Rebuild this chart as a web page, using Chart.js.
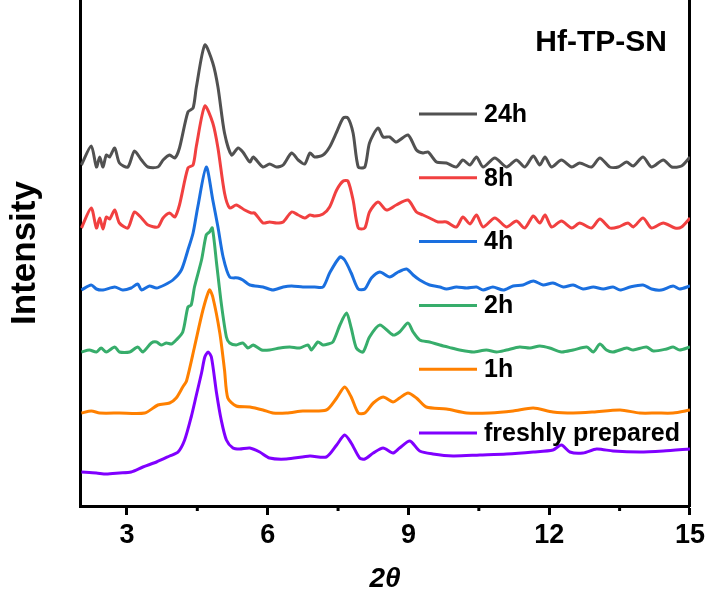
<!DOCTYPE html>
<html>
<head>
<meta charset="utf-8">
<script src="https://cdn.jsdelivr.net/npm/chart.js@4.4.0/dist/chart.umd.min.js"></script>
<style>
  html, body { margin: 0; padding: 0; background: #fff; }
  #wrap { width: 709px; height: 593px; }
</style>
</head>
<body>
<div id="wrap"><canvas id="xrd" width="709" height="593"></canvas></div>
<script>
// XRD patterns, stacked (intensity already offset per curve), pairs of [2theta, intensity]
const sampleName = "Hf-TP-SN";
const seriesLabels = ["24h", "8h", "4h", "2h", "1h", "freshly prepared"];
const majorTicks = [3, 6, 9, 12, 15];
const minorTicks = [4.5, 7.5, 10.5, 13.5];

const s24h = [[2.03,341],[2.24,360],[2.35,339],[2.42,349],[2.49,339],[2.56,351],[2.63,349],[2.74,358],[2.84,343],[3.02,339],[3.16,355],[3.31,346],[3.45,339],[3.66,339],[3.77,346],[3.91,351],[4.02,348],[4.12,358],[4.30,394],[4.41,398],[4.48,419],[4.66,461],[4.83,443],[4.94,419],[5.08,373],[5.23,351],[5.37,358],[5.47,354],[5.62,344],[5.69,349],[5.90,339],[6.04,342],[6.19,339],[6.33,341],[6.51,353],[6.65,346],[6.79,342],[6.90,353],[7.00,349],[7.18,351],[7.32,359],[7.47,374],[7.61,388],[7.71,388],[7.82,373],[7.93,339],[8.07,339],[8.17,363],[8.35,378],[8.46,369],[8.60,369],[8.74,364],[8.99,371],[9.17,356],[9.31,353],[9.42,354],[9.60,344],[9.81,343],[10.02,339],[10.16,346],[10.31,341],[10.45,349],[10.59,339],[10.84,348],[11.09,339],[11.30,346],[11.48,339],[11.66,350],[11.80,341],[11.91,349],[12.05,339],[12.26,346],[12.48,339],[12.65,343],[12.90,339],[13.08,348],[13.29,339],[13.47,339],[13.65,344],[13.79,340],[14.00,349],[14.18,339],[14.43,346],[14.61,339],[14.82,340],[15.00,349]];
const s8h = [[2.03,278],[2.24,298],[2.35,278],[2.42,288],[2.49,277],[2.56,289],[2.63,287],[2.74,296],[2.84,283],[3.02,278],[3.16,294],[3.31,288],[3.45,281],[3.66,279],[3.77,288],[3.91,293],[4.02,289],[4.12,301],[4.30,338],[4.41,341],[4.48,360],[4.66,400],[4.83,383],[4.94,358],[5.08,313],[5.19,298],[5.33,301],[5.51,296],[5.65,293],[5.72,293],[5.90,283],[6.04,284],[6.19,283],[6.33,284],[6.51,294],[6.65,291],[6.79,288],[6.90,291],[7.00,290],[7.18,292],[7.32,299],[7.47,316],[7.61,325],[7.71,325],[7.82,306],[7.93,278],[8.07,278],[8.17,294],[8.35,304],[8.53,296],[8.74,301],[8.99,306],[9.17,294],[9.31,291],[9.45,288],[9.63,284],[9.81,284],[10.02,279],[10.16,289],[10.31,282],[10.45,291],[10.59,279],[10.84,288],[11.09,279],[11.30,285],[11.48,278],[11.66,290],[11.80,283],[11.91,291],[12.05,279],[12.26,285],[12.48,278],[12.65,283],[12.90,278],[13.08,287],[13.29,278],[13.47,279],[13.68,283],[13.79,279],[14.00,288],[14.18,278],[14.43,283],[14.68,278],[14.82,279],[15.00,288]];
const s4h = [[2.03,216],[2.24,221],[2.35,217],[2.49,216],[2.74,219],[2.91,216],[3.09,218],[3.23,222],[3.31,216],[3.48,220],[3.63,218],[3.80,221],[3.98,226],[4.16,236],[4.30,256],[4.41,273],[4.51,299],[4.69,339],[4.83,306],[4.94,279],[5.05,249],[5.19,229],[5.37,228],[5.47,226],[5.62,221],[5.90,219],[6.11,216],[6.33,219],[6.51,220],[6.75,219],[7.00,219],[7.18,219],[7.32,233],[7.54,249],[7.64,246],[7.78,233],[7.93,217],[8.07,217],[8.21,228],[8.39,234],[8.60,229],[8.78,234],[8.96,237],[9.10,231],[9.24,226],[9.45,221],[9.67,219],[9.81,217],[10.02,219],[10.24,218],[10.45,219],[10.59,216],[10.80,219],[11.02,216],[11.23,220],[11.44,221],[11.66,225],[11.87,221],[12.08,223],[12.30,219],[12.51,221],[12.72,217],[12.94,219],[13.15,217],[13.36,219],[13.51,216],[13.72,219],[14.00,221],[14.18,217],[14.39,216],[14.64,220],[14.78,217],[15.00,220]];
const s2h = [[2.03,154],[2.20,156],[2.35,154],[2.45,158],[2.56,154],[2.74,159],[2.84,154],[3.06,154],[3.23,159],[3.34,154],[3.52,163],[3.63,164],[3.73,161],[3.84,163],[3.95,162],[4.05,166],[4.19,174],[4.30,199],[4.37,201],[4.44,219],[4.59,246],[4.69,271],[4.76,274],[4.82,278],[4.91,243],[5.01,203],[5.12,169],[5.19,163],[5.33,161],[5.47,163],[5.58,158],[5.69,161],[5.87,156],[6.04,156],[6.26,158],[6.47,159],[6.68,158],[6.86,161],[6.93,156],[7.07,164],[7.18,161],[7.29,162],[7.39,164],[7.54,181],[7.68,193],[7.78,178],[7.89,158],[8.03,154],[8.17,169],[8.39,181],[8.67,171],[8.81,174],[8.99,183],[9.10,174],[9.24,166],[9.45,164],[9.67,161],[9.92,158],[10.09,156],[10.38,154],[10.66,156],[10.88,154],[11.09,156],[11.37,159],[11.59,158],[11.80,160],[12.01,158],[12.26,154],[12.51,156],[12.80,159],[12.94,154],[13.08,162],[13.22,156],[13.36,154],[13.65,158],[13.79,156],[14.07,159],[14.22,155],[14.50,157],[14.64,159],[14.78,156],[15.00,159]];
const s1h = [[2.03,93],[2.24,95],[2.42,93],[2.84,93],[3.38,93],[3.66,101],[3.91,103],[4.05,108],[4.19,119],[4.27,125],[4.44,159],[4.62,196],[4.76,216],[4.83,209],[4.98,173],[5.08,136],[5.15,108],[5.33,100],[5.62,99],[5.90,96],[6.11,93],[6.40,93],[6.75,95],[7.25,96],[7.47,108],[7.64,119],[7.78,109],[7.93,93],[8.07,93],[8.25,103],[8.46,109],[8.67,104],[8.81,108],[8.99,113],[9.17,108],[9.38,99],[9.81,97],[10.24,93],[10.73,93],[11.23,95],[11.66,98],[12.08,94],[12.51,93],[12.94,94],[13.51,96],[13.93,93],[14.29,93],[14.64,93],[15.00,96]];
const sFresh = [[2.03,34],[2.35,33],[2.56,32],[2.84,33],[3.09,34],[3.34,39],[3.63,44],[3.91,50],[4.09,54],[4.23,66],[4.37,89],[4.48,111],[4.59,133],[4.66,149],[4.73,154],[4.80,149],[4.91,113],[5.01,86],[5.12,66],[5.26,58],[5.40,57],[5.62,58],[5.83,54],[6.04,48],[6.40,47],[6.90,50],[7.25,49],[7.47,61],[7.64,71],[7.78,63],[7.96,48],[8.07,47],[8.25,53],[8.46,58],[8.67,53],[8.81,58],[9.03,65],[9.24,55],[9.52,52],[9.95,50],[10.52,51],[11.09,52],[11.66,54],[12.08,56],[12.26,61],[12.44,54],[12.72,53],[13.01,57],[13.36,55],[13.93,54],[14.43,55],[15.00,57]];

const seriesData = [s24h, s8h, s4h, s2h, s1h, sFresh];
const seriesColors = ["#515151", "#F14040", "#1A6FDF", "#37AD6B", "#FF8000", "#8000FF"];

const FONT = "'Liberation Sans', Arial, sans-serif";
Chart.defaults.font.family = FONT;
Chart.defaults.color = "#000";

const toPts = (arr) => arr.map(([x, y]) => ({ x, y }));

// legend, sample name and minor ticks drawn on top
const overlay = {
  id: "overlay",
  afterDraw(chart) {
    const { ctx, chartArea, scales } = chart;
    ctx.save();
    ctx.strokeStyle = "#000";
    ctx.lineWidth = 3;
    minorTicks.forEach((v) => {
      const px = scales.x.getPixelForValue(v);
      ctx.beginPath();
      ctx.moveTo(px, chartArea.bottom);
      ctx.lineTo(px, chartArea.bottom + 5);
      ctx.stroke();
    });

    ctx.font = `bold 25px ${FONT}`;
    ctx.textBaseline = "middle";
    ctx.textAlign = "left";
    chart.data.datasets.forEach((ds, i) => {
      const y = 114 + i * 63.8;
      ctx.strokeStyle = ds.borderColor;
      ctx.lineWidth = 3;
      ctx.beginPath();
      ctx.moveTo(419, y);
      ctx.lineTo(477, y);
      ctx.stroke();
      ctx.fillStyle = "#000";
      ctx.fillText(ds.label, 484, y + 1);
    });

    ctx.font = `bold 30px ${FONT}`;
    ctx.textAlign = "right";
    ctx.fillText(sampleName, 667, 43);
    ctx.restore();
  },
};

new Chart(document.getElementById("xrd"), {
  type: "line",
  data: {
    datasets: seriesLabels.map((label, i) => ({
      label,
      data: toPts(seriesData[i]),
      borderColor: seriesColors[i],
      borderWidth: 3,
      pointRadius: 0,
      tension: 0.25,
      fill: false,
    })),
  },
  options: {
    responsive: false,
    animation: false,
    events: [],
    layout: { padding: { left: 0, right: 19, top: 0, bottom: 0 } },
    plugins: { legend: { display: false }, tooltip: { enabled: false } },
    scales: {
      x: {
        type: "linear",
        min: 2,
        max: 15,
        afterBuildTicks: (scale) => {
          scale.ticks = majorTicks.map((v) => ({ value: v }));
        },
        afterFit: (scale) => { scale.height = 87; },
        ticks: { font: { size: 27, weight: "bold" }, color: "#000", padding: 4, maxRotation: 0, autoSkip: false },
        grid: { drawOnChartArea: false, drawTicks: true, tickLength: 9, tickWidth: 3, tickColor: "#000" },
        border: { display: true, width: 3, color: "#000" },
        title: {
          display: true,
          text: "2θ",
          font: { size: 28, weight: "bold", style: "italic", lineHeight: 1 },
          padding: { top: 0, bottom: 0 },
          color: "#000",
        },
      },
      y: {
        min: 0,
        max: 506,
        afterFit: (scale) => { scale.width = 80; },
        ticks: { display: false },
        grid: { drawOnChartArea: false, drawTicks: false },
        border: { display: true, width: 3, color: "#000" },
        title: {
          display: true,
          text: "Intensity",
          font: { size: 35, weight: "bold" },
          padding: { top: 4, bottom: 0 },
          color: "#000",
        },
      },
      y2: {
        position: "right",
        min: 0,
        max: 1,
        afterFit: (scale) => { scale.width = 0; },
        ticks: { display: false },
        grid: { drawOnChartArea: false, drawTicks: false },
        border: { display: true, width: 3, color: "#000" },
      },
    },
  },
  plugins: [overlay],
});
</script>
</body>
</html>
